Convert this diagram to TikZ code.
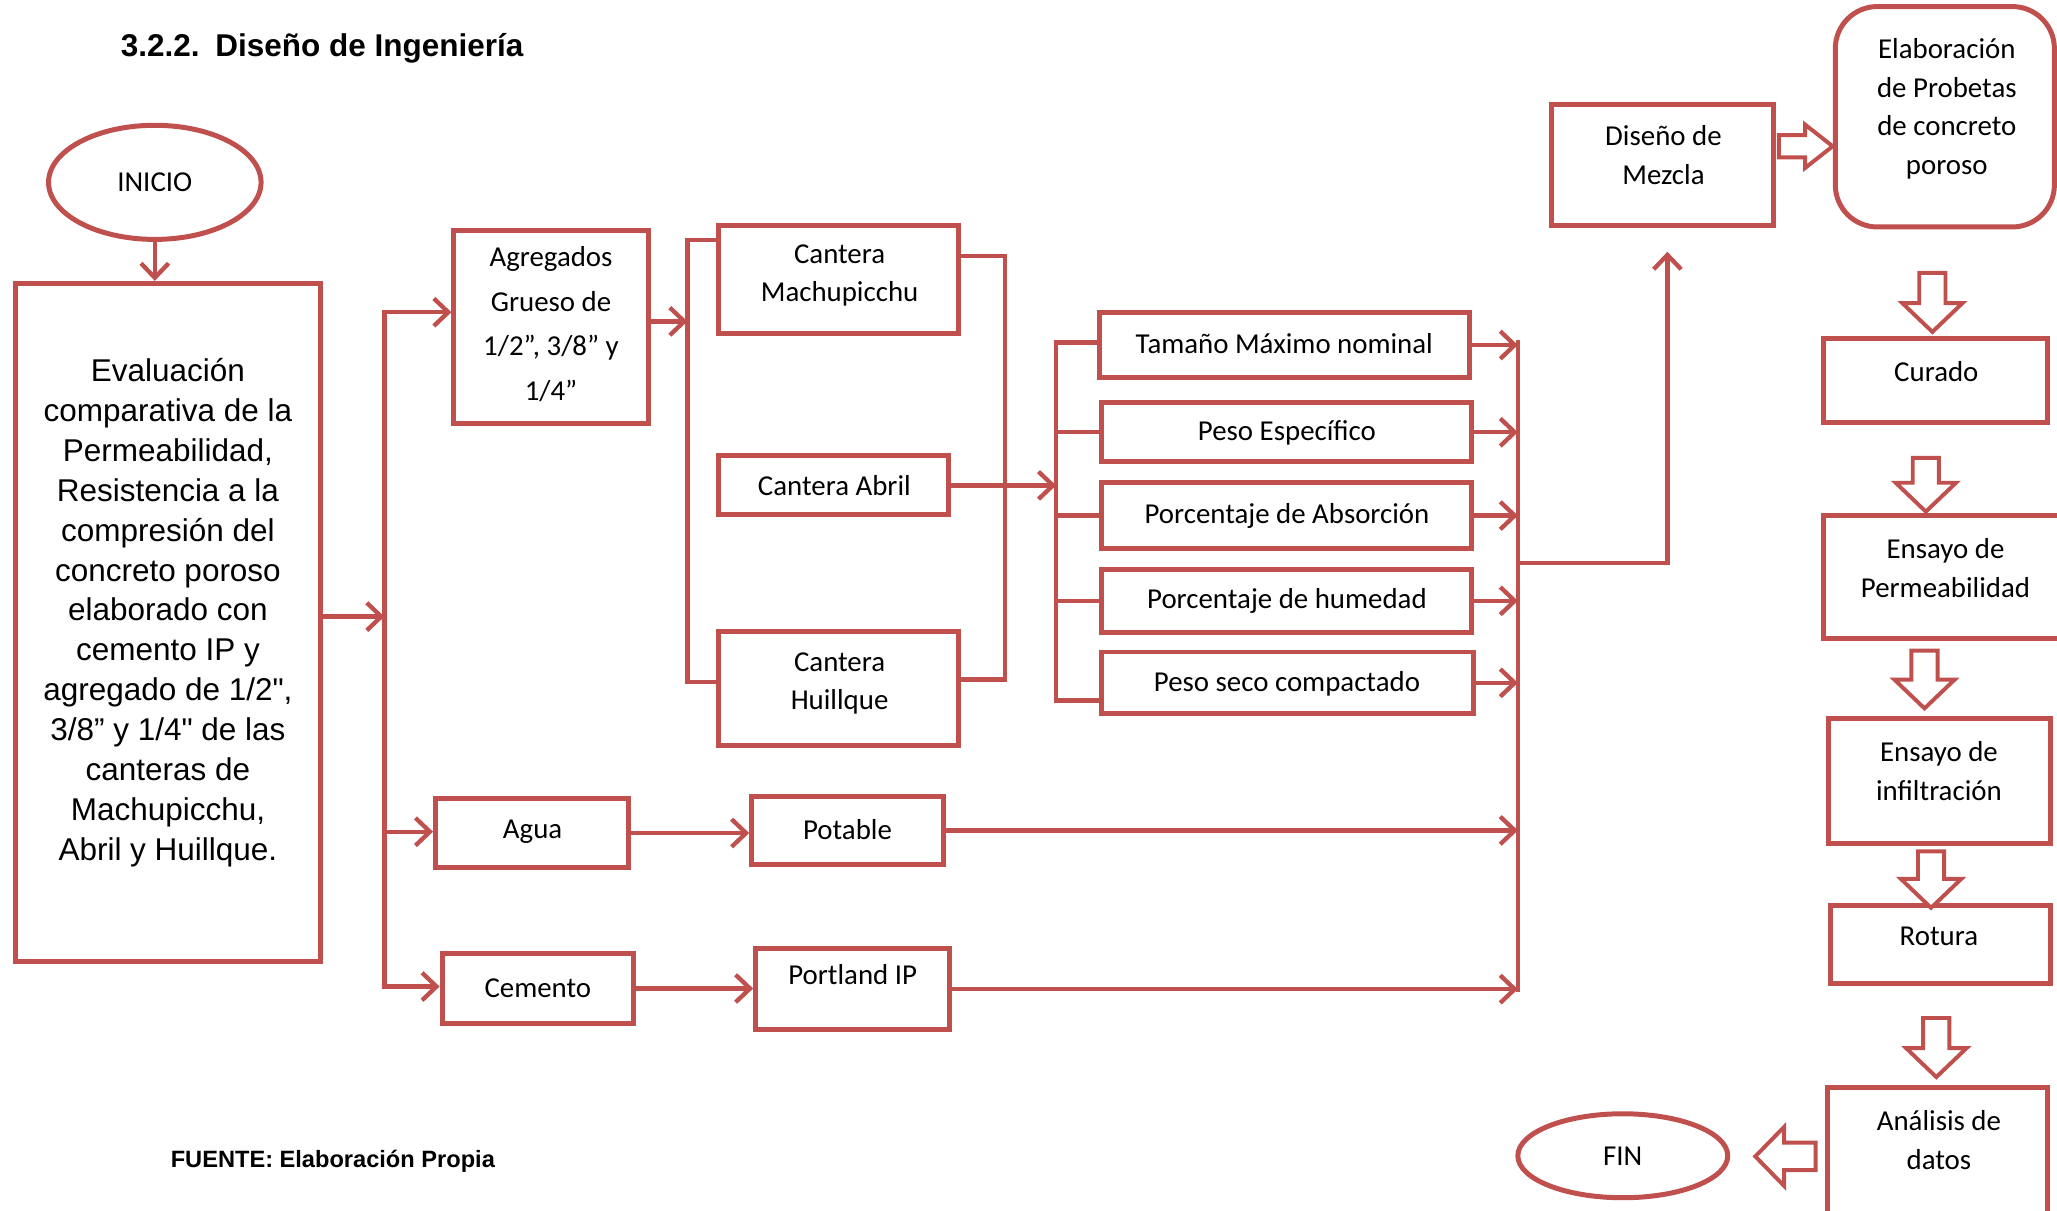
\documentclass[tikz,border=0pt]{standalone}
\usepackage{fontspec}
\setmainfont{Carlito}
\newfontfamily\arialf{Liberation Sans}
\usetikzlibrary{arrows.meta,fit,shapes.geometric}
\definecolor{accred}{HTML}{C0504D}
\newcommand\dnarrow[3]{% cx, top, tip
  \draw[barrow] ({#1-10},{#2}) -- ({#1+10},{#2}) -- ({#1+10},{#3-22}) -- ({#1+23},{#3-22})
    -- ({#1},{#3}) -- ({#1-23},{#3-22}) -- ({#1-10},{#3-22}) -- cycle;}
\begin{document}
\begin{tikzpicture}[x=1pt,y=-1pt,
  box/.style={draw=accred, line width=3.8pt, inner sep=0pt, fill=white},
  conn/.style={draw=accred, line width=3.3pt},
  arr/.style={conn, -{Straight Barb[length=11pt,width=21pt]}},
  txt/.style={align=center, font=\fontsize{22}{29.5}\selectfont, inner sep=0pt},
  barrow/.style={draw=accred, line width=3pt, fill=white, line join=miter}]
\useasboundingbox (0,0) rectangle (1568,923);

% title and source
\node[anchor=west, inner sep=0pt, font=\arialf\bfseries\fontsize{24}{28}\selectfont] (title) at (92,37) {3.2.2.\hspace{12pt}Diseño de Ingeniería};
\node[anchor=west, inner sep=0pt, font=\arialf\bfseries\fontsize{18}{20}\selectfont] (fuente) at (130,885) {FUENTE: Elaboración Propia};

% boxes
\node[box, ellipse, minimum width=162pt, minimum height=87pt] (inicio) at (118,139) {};
\node[box, fit={(12,216) (244,733)}] (main) {};
\node[box, fit={(346,176) (494,323)}] (agr) {};
\node[box, fit={(548,172) (731,254)}] (cmach) {};
\node[box, fit={(548,347) (723,392)}] (cabril) {};
\node[box, fit={(548,481) (731,568)}] (chuill) {};
\node[box, fit={(838,238) (1120,288)}] (tam) {};
\node[box, fit={(840,307) (1122,352)}] (pesoe) {};
\node[box, fit={(840,368) (1122,418)}] (abs) {};
\node[box, fit={(840,434) (1122,482)}] (hum) {};
\node[box, fit={(840,497) (1123,544)}] (seco) {};
\node[box, fit={(332,609) (479,661)}] (agua) {};
\node[box, fit={(573,607) (719,659)}] (pot) {};
\node[box, fit={(337,727) (483,780)}] (cem) {};
\node[box, fit={(576,723) (724,785)}] (port) {};
\node[box, fit={(1183,80) (1352,172)}] (mezcla) {};
\node[box, rounded corners=32pt, fit={(1399,5) (1566,173)}] (elab) {};
\node[box, fit={(1390,258) (1561,322)}] (curado) {};
\node[box, fit={(1390,393) (1572,487)}] (perm) {};
\node[box, fit={(1394,548) (1563,643)}] (infil) {};
\node[box, fit={(1395,690) (1563,750)}] (rotura) {};
\node[box, fit={(1393,829) (1561,935)}] (analisis) {};
\node[box, ellipse, minimum width=160pt, minimum height=64pt] (fin) at (1237,881) {};

% texts
\node[txt] (inicio-t) at (inicio) {INICIO};
\node[align=center, inner sep=0pt, font=\arialf\fontsize{24}{30.4}\selectfont] (main-t) at (128,467)
  {Evaluación\\comparativa de la\\Permeabilidad,\\Resistencia a la\\compresión del\\concreto poroso\\elaborado con\\cemento IP y\\agregado de 1/2",\\3/8” y 1/4" de las\\canteras de\\Machupicchu,\\Abril y Huillque.};
\node[txt, font=\fontsize{22}{34}\selectfont] (agr-t) at (420,247) {Agregados\\Grueso de\\1/2”, 3/8” y\\1/4”};
\node[txt] (cmach-t) at (640,210) {Cantera\\Machupicchu};
\node[txt] (cabril-t) at (636,370) {Cantera Abril};
\node[txt] (chuill-t) at (640,521) {Cantera\\Huillque};
\node[txt] (tam-t) at (979,262) {Tamaño Máximo nominal};
\node[txt] (pesoe-t) at (981,330) {Peso Específico};
\node[txt] (abs-t) at (981,393) {Porcentaje de Absorción};
\node[txt] (hum-t) at (981,458) {Porcentaje de humedad};
\node[txt] (seco-t) at (981,521) {Peso seco compactado};
\node[txt] (agua-t) at (406,634) {Agua};
\node[txt] (pot-t) at (646,632) {Potable};
\node[txt] (cem-t) at (410,753) {Cemento};
\node[txt] (port-t) at (650,743) {Portland IP};
\node[txt] (mezcla-t) at (1268,118) {Diseño de\\Mezcla};
\node[txt] (elab-t) at (1484,83) {Elaboración\\de Probetas\\de concreto\\poroso};
\node[txt] (curado-t) at (1476,283) {Curado};
\node[txt] (perm-t) at (1483,433) {Ensayo de\\Permeabilidad};
\node[txt] (infil-t) at (1478,588) {Ensayo de\\infiltración};
\node[txt] (rotura-t) at (1478,714) {Rotura};
\node[txt] (analisis-t) at (1478,869) {Análisis de\\datos};
\node[txt] (fin-t) at (fin) {FIN};

% connectors
\draw[arr] (inicio.south) -- (inicio.south |- main.north);
\coordinate (tA) at (293,470);
\coordinate (tAtop) at (293,238);
\coordinate (tAmid) at (293,634);
\coordinate (tAbot) at (293,752);
\draw[arr] (main.east |- tA) -- (tA);
\draw[arr] (tAbot) -- (tAtop) -- (agr.west |- tAtop);
\draw[arr] (tAtop) -- (tAbot) -- (cem.west |- tAbot);
\draw[arr] (tAmid) -- (agua.west |- tAmid);

\coordinate (tB) at (524,245);
\coordinate (tBtop) at (524,183);
\coordinate (tBbot) at (524,520);
\draw[arr] (agr.east |- tB) -- (tB);
\draw[conn] (cmach.west |- tBtop) -- (tBtop) -- (tBbot) -- (chuill.west |- tBbot);

\coordinate (tCtop) at (766,195);
\coordinate (tCbot) at (766,518);
\draw[conn] (cmach.east |- tCtop) -- (tCtop) -- (tCbot) -- (chuill.east |- tCbot);

\coordinate (tD) at (805,370);
\coordinate (tDtop) at (805,261);
\coordinate (tDbot) at (805,534);
\draw[arr] (cabril.east |- tD) -- (tD);
\draw[conn] (tam.west |- tDtop) -- (tDtop) -- (tDbot) -- (seco.west |- tDbot);
\draw[conn] (tDtop |- pesoe.west) -- (pesoe.west);
\draw[conn] (tDtop |- abs.west) -- (abs.west);
\draw[conn] (tDtop |- hum.west) -- (hum.west);

\coordinate (tEtop) at (1157,259);
\coordinate (tEbot) at (1157,756);
\draw[conn] (tEtop) -- (tEbot);
\draw[arr] (tam.east) -- (tam.east -| tEtop);
\draw[arr] (pesoe.east) -- (pesoe.east -| tEtop);
\draw[arr] (abs.east) -- (abs.east -| tEtop);
\draw[arr] (hum.east) -- (hum.east -| tEtop);
\draw[arr] (seco.east) -- (seco.east -| tEtop);
\draw[arr] (pot.east) -- (pot.east -| tEtop);
\draw[arr] (port.east) -- (port.east -| tEtop);
\draw[arr] (agua.east) -- (pot.west |- agua.east);
\draw[arr] (cem.east) -- (port.west |- cem.east);

\coordinate (tF) at (1157,429);
\coordinate (tFc) at (1271,429);
\draw[arr, shorten >=18pt] (tF) -- (tFc) -- (mezcla.south -| tFc);

% block arrows
\draw[barrow] (1356,103) -- (1376,103) -- (1376,95) -- (1397,111.5) -- (1376,128) -- (1376,120) -- (1356,120) -- cycle;
\dnarrow{1473}{208}{253}
\dnarrow{1468}{349}{390}
\dnarrow{1467}{496}{540}
\dnarrow{1472}{649}{692}
\dnarrow{1476}{776}{821}
\draw[barrow] (1384,871) -- (1360,871) -- (1360,859) -- (1338,881.5) -- (1360,904) -- (1360,892) -- (1384,892) -- cycle;
\end{tikzpicture}
\end{document}
